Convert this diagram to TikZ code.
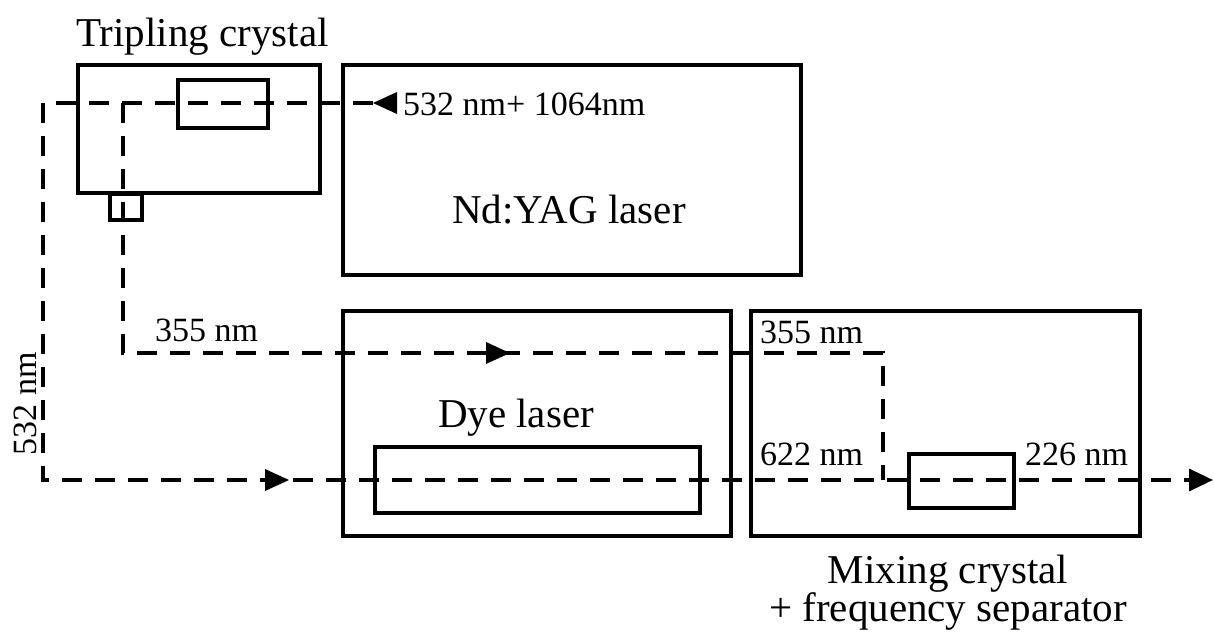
\documentclass[tikz,border=0pt]{standalone}
\usepackage{fontspec}
\setmainfont{Liberation Serif}
\usetikzlibrary{arrows.meta,decorations.markings,fit}
\tikzset{
  box/.style={draw, line width=3.5pt, rectangle, inner sep=0pt},
  beam/.style={line width=3.5pt, dash pattern=on 20pt off 13pt},
  beamtip/.tip={Triangle[length=24pt,width=22pt]},
  lbl/.style={inner sep=0pt, anchor=base west, font=\fontsize{34}{38}\selectfont},
  biglbl/.style={inner sep=0pt, font=\fontsize{41}{44}\selectfont},
}
\begin{document}
\begin{tikzpicture}[x=1pt,y=-1pt]
\useasboundingbox (0,0) rectangle (1214,642);
% boxes
\node[box, fit={(78,65) (320,193)}] (trip) {};
\node[box, fit={(178,80) (268,128)}] (tripc) {};
\node[box, fit={(110,194) (142,220)}] (trips) {};
\node[box, fit={(343,65) (801,275)}] (yag) {};
\node[box, fit={(343,311) (731,536)}] (dye) {};
\node[box, fit={(375,447) (700,513)}] (dyec) {};
\node[box, fit={(751,311) (1140,536)}] (mix) {};
\node[box, fit={(909,454) (1014,508)}] (mixc) {};
% beam coordinates
\coordinate (src) at (373,103);
\coordinate (tl) at (43,103);
\coordinate (bl) at (43,480);
\coordinate (out) at (1213,480);
\coordinate (br) at (123,103);
\coordinate (b2) at (123,353);
\coordinate (r2) at (883,353);
\coordinate (r3) at (883,480);
% beams
\draw[beam, -{beamtip}, postaction={decorate}, decoration={markings,
  mark=at position 0pt with {\arrow[line width=0pt]{beamtip}},
  mark=at position 953pt with {\arrow[line width=0pt]{beamtip}}}]
  (src) -- (tl) -- (bl) -- (out);
\draw[beam, postaction={decorate}, decoration={markings,
  mark=at position 637pt with {\arrow[line width=0pt]{beamtip}}}]
  (br) -- (b2) -- (r2) -- (r3);
% labels
\node[biglbl, anchor=base west] (tripl) at (76,46) {Tripling crystal};
\node[biglbl, anchor=base] (yagl) at (569,223) {Nd:YAG laser};
\node[biglbl, anchor=base] (dyel) at (516,427) {Dye laser};
\node[biglbl, anchor=base, align=center, font=\fontsize{41}{38}\selectfont] (mixl) at (948,621) {Mixing crystal\\+ frequency separator};
\node[lbl] (l1) at (403,115) {532 nm+ 1064nm};
\node[lbl] (l2) at (155,341) {355 nm};
\node[lbl] (l3) at (760,343) {355 nm};
\node[lbl] (l4) at (760,465) {622 nm};
\node[lbl] (l5) at (1025,465) {226 nm};
\node[lbl, anchor=base, rotate=90] (l6) at (36,404) {532 nm};
\end{tikzpicture}
\end{document}
